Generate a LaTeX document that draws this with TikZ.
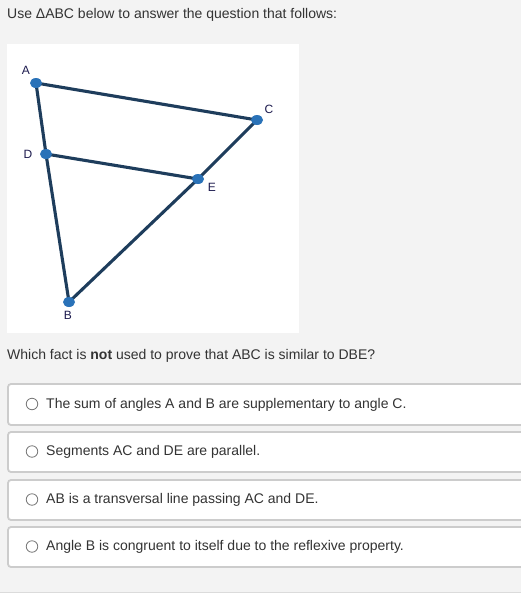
\documentclass[tikz,border=0pt]{standalone}
\usetikzlibrary{shapes.geometric}
\usepackage{fontspec}
\setmainfont{Liberation Sans}
\definecolor{bgc}{HTML}{F3F3F3}
\definecolor{txt}{HTML}{333333}
\definecolor{edgec}{HTML}{1E3D5C}
\definecolor{dotc}{HTML}{2A72B8}
\definecolor{lblc}{HTML}{1C1A4E}
\definecolor{boxb}{HTML}{CCCCCC}
\definecolor{radio}{HTML}{777777}
\begin{document}
\begin{tikzpicture}[x=1pt,y=-1pt,
  seg/.style={draw=edgec,line width=3.1pt},
  pt/.style={ellipse,fill=dotc,minimum width=12pt,minimum height=10pt,inner sep=0pt},
  lbl/.style={text=lblc,font=\fontsize{12}{14}\selectfont,inner sep=0pt},
  plain/.style={text=txt,font=\fontsize{14}{16}\selectfont,anchor=west,inner sep=0pt},
  optbox/.style={draw=boxb,line width=1.8pt,fill=white,rounded corners=3pt},
  radiob/.style={circle,draw=radio,line width=0.8pt,fill=white,minimum size=11.5pt,inner sep=0pt}]
\useasboundingbox (0,0) rectangle (521,598);
\fill[bgc] (0,0) rectangle (521,598);
\fill[white] (0,592.5) rectangle (521,598);
\draw[boxb!70,line width=1pt] (0,592) -- (521,592);
\node[plain] (title) at (7,15) {Use ΔABC below to answer the question that follows:};
\fill[white] (7,44) rectangle (299,333);
\coordinate (A) at (36,83);
\coordinate (C) at (257,120);
\coordinate (D) at (46,154);
\coordinate (E) at (198,179);
\coordinate (B) at (69,302);
\draw[seg] (A) -- (C) -- (E) -- (B) -- (D) -- (A);
\draw[seg] (D) -- (E);
\foreach \p in {A,B,C,D,E} \node[pt] (d\p) at (\p) {};
\node[lbl] (lA) at (26,70) {A};
\node[lbl] (lC) at (269,109) {C};
\node[lbl] (lD) at (28,154) {D};
\node[lbl] (lE) at (212,187) {E};
\node[lbl] (lB) at (68,315) {B};
\node[plain] (q) at (7,356) {Which fact is \textbf{not} used to prove that ABC is similar to DBE?};
\foreach \i/\t/\s/\e in {1/The sum of angles A and B are supplementary to angle C./384/425,
                     2/Segments AC and DE are parallel./432/472,
                     3/AB is a transversal line passing AC and DE./480/520,
                     4/Angle B is congruent to itself due to the reflexive property./527/567}{
  \draw[optbox] (8,\s) rectangle (530,\e);
  \node[radiob] (r\i) at (32,{(\s+\e)/2-0.5}) {};
  \node[plain] (o\i) at (46,{(\s+\e)/2}) {\t};
}
\end{tikzpicture}
\end{document}
